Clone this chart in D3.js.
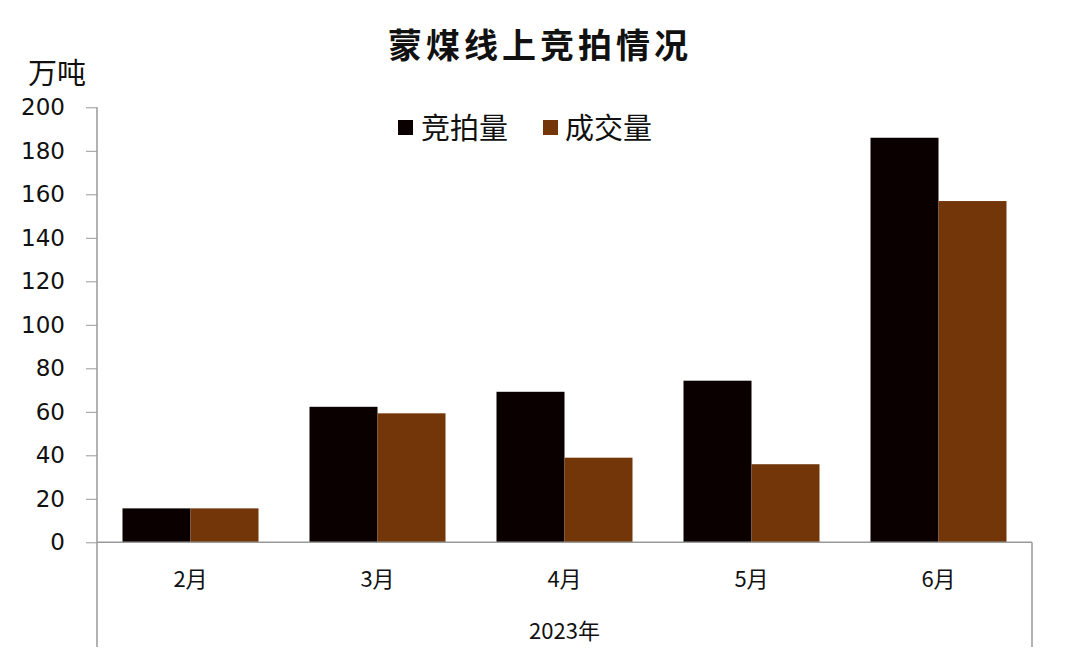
<!DOCTYPE html>
<html>
<head>
<meta charset="utf-8">
<script src="https://cdn.jsdelivr.net/npm/d3@7"></script>
<style>
  html, body { margin: 0; padding: 0; background: #fff; }
  text { font-family: "Noto Sans CJK SC", "DejaVu Sans", sans-serif; fill: #111; }
</style>
</head>
<body>
<div id="chart"></div>
<script>
// 月份与两组数据（万吨）
const months = ["2月", "3月", "4月", "5月", "6月"];
const seriesNames = ["竞拍量", "成交量"];
const auctionVals = [15.6, 62.3, 69.2, 74.3, 186];
const dealVals = [15.6, 59.3, 38.9, 35.9, 156.9];
const yTicks = [0, 20, 40, 60, 80, 100, 120, 140, 160, 180, 200];
const colors = ["#0b0000", "#733608"];

const width = 1086, height = 664;
const plotL = 97, plotR = 1032, plotT = 107.3, plotB = 542.3;

const svg = d3.select("#chart").append("svg")
    .attr("width", width)
    .attr("height", height);

const x = d3.scaleBand().domain(months).range([plotL, plotR]).padding(0);
const xs = d3.scaleBand().domain(seriesNames).range([0, x.bandwidth()])
    .paddingInner(0).paddingOuter(0.375);
const y = d3.scaleLinear().domain([0, 200]).range([plotB, plotT]);

// 标题
svg.append("text")
    .attr("x", 540).attr("y", 58)
    .attr("text-anchor", "middle")
    .style("font-size", "34px").style("font-weight", "bold")
    .style("letter-spacing", "4px")
    .text("蒙煤线上竞拍情况");

// 单位
svg.append("text")
    .attr("x", 57).attr("y", 84)
    .attr("text-anchor", "middle")
    .style("font-size", "29px")
    .text("万吨");

// y 轴
const yAxis = svg.append("g")
    .attr("transform", `translate(${plotL},0)`)
    .call(d3.axisLeft(y).tickValues(yTicks).tickSize(11).tickPadding(21));
yAxis.select(".domain").remove();
yAxis.selectAll(".tick line").attr("stroke", "#999");
yAxis.selectAll(".tick text")
    .style("font-size", "23px").style("font-family", "'DejaVu Sans', sans-serif")
    .attr("fill", "#222");

// 柱子
const rows = months.map((m, i) => ({ month: m, vals: [auctionVals[i], dealVals[i]] }));
const grp = svg.append("g").selectAll("g").data(rows).enter().append("g")
    .attr("transform", d => `translate(${x(d.month)},0)`);
grp.selectAll("rect")
    .data(d => d.vals.map((v, j) => ({ name: seriesNames[j], v, j })))
    .enter().append("rect")
    .attr("x", d => xs(d.name))
    .attr("width", xs.bandwidth())
    .attr("y", d => y(d.v))
    .attr("height", d => y(0) - y(d.v))
    .attr("fill", d => colors[d.j]);

// 坐标轴线
const axisColor = "#999";
svg.append("line").attr("x1", plotL).attr("x2", plotL).attr("y1", plotT).attr("y2", 647)
    .attr("stroke", axisColor).attr("stroke-width", 1.5);
svg.append("line").attr("x1", plotL).attr("x2", plotR).attr("y1", plotB).attr("y2", plotB)
    .attr("stroke", axisColor).attr("stroke-width", 1.5);
svg.append("line").attr("x1", plotR).attr("x2", plotR).attr("y1", plotB).attr("y2", 647)
    .attr("stroke", axisColor).attr("stroke-width", 1.5);

// 月份标签
svg.append("g").selectAll("text").data(months).enter().append("text")
    .attr("x", d => x(d) + x.bandwidth() / 2)
    .attr("y", 587)
    .attr("text-anchor", "middle")
    .style("font-size", "22px")
    .text(d => d);

svg.append("text")
    .attr("x", (plotL + plotR) / 2).attr("y", 639)
    .attr("text-anchor", "middle")
    .style("font-size", "22px")
    .text("2023年");

// 图例
const legendItems = [
    { name: seriesNames[0], color: colors[0], sx: 398, tx: 421 },
    { name: seriesNames[1], color: colors[1], sx: 543, tx: 565 }
];
const lg = svg.append("g").selectAll("g").data(legendItems).enter().append("g");
lg.append("rect")
    .attr("x", d => d.sx).attr("y", 120)
    .attr("width", 15).attr("height", 15)
    .attr("fill", d => d.color);
lg.append("text")
    .attr("x", d => d.tx).attr("y", 139)
    .style("font-size", "29px")
    .text(d => d.name);
</script>
</body>
</html>
